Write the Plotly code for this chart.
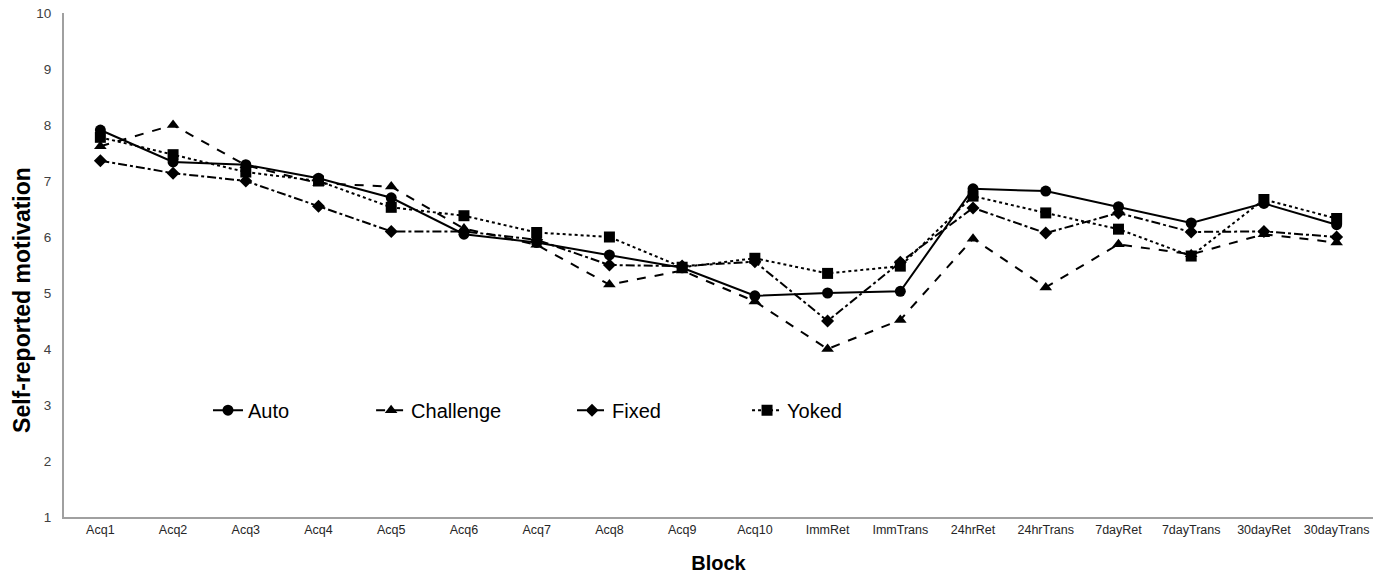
import plotly.graph_objects as go

blocks = ["Acq1", "Acq2", "Acq3", "Acq4", "Acq5", "Acq6", "Acq7", "Acq8", "Acq9", "Acq10",
          "ImmRet", "ImmTrans", "24hrRet", "24hrTrans", "7dayRet", "7dayTrans", "30dayRet", "30dayTrans"]

auto = [7.91, 7.34, 7.29, 7.05, 6.70, 6.05, 5.90, 5.68, 5.45, 4.95, 5.00, 5.03, 6.86, 6.82, 6.54, 6.25, 6.60, 6.22]
challenge = [7.62, 8.00, 7.28, 6.96, 6.90, 6.15, 5.86, 5.15, 5.40, 4.85, 4.00, 4.52, 5.97, 5.10, 5.87, 5.69, 6.05, 5.90]
fixed = [7.36, 7.14, 7.00, 6.55, 6.10, 6.10, 5.95, 5.50, 5.48, 5.56, 4.50, 5.55, 6.52, 6.07, 6.43, 6.09, 6.10, 6.00]
yoked = [7.78, 7.47, 7.16, 7.00, 6.53, 6.38, 6.08, 6.00, 5.46, 5.62, 5.35, 5.48, 6.73, 6.43, 6.14, 5.66, 6.67, 6.33]

series = [
    ("Auto", auto, "solid", "circle", "legend"),
    ("Challenge", challenge, "dash", "triangle-up", "legend2"),
    ("Fixed", fixed, "dashdot", "diamond", "legend3"),
    ("Yoked", yoked, "dot", "square", "legend4"),
]

font = "Arial, Liberation Sans, sans-serif"
fig = go.Figure()
for name, vals, dash, sym, leg in series:
    fig.add_trace(go.Scatter(
        x=blocks, y=vals, name=name, mode="lines+markers", legend=leg,
        line=dict(color="black", width=2, dash=dash),
        marker=dict(symbol=sym, size=11 if sym != "diamond" else 10, color="black"),
    ))

legend_x = [0.110, 0.2346, 0.3881, 0.5218]
leg_common = dict(orientation="h", y=0.212, xanchor="left", yanchor="middle",
                  font=dict(size=20, family=font, color="black"), bgcolor="rgba(0,0,0,0)")

fig.add_annotation(
    text="<b>Self-reported motivation</b>", textangle=-90,
    xref="paper", yref="paper", x=-0.0321, y=0.4306,
    xanchor="center", yanchor="middle", showarrow=False,
    font=dict(size=23, family=font, color="black"),
)

fig.update_layout(
    width=1380, height=585,
    margin=dict(l=64, r=7, t=13, b=68),
    paper_bgcolor="white", plot_bgcolor="white",
    font=dict(family=font, color="#404040", size=13),
    showlegend=True,
    legend=dict(x=legend_x[0], **leg_common),
    legend2=dict(x=legend_x[1], **leg_common),
    legend3=dict(x=legend_x[2], **leg_common),
    legend4=dict(x=legend_x[3], **leg_common),
    xaxis=dict(type="category", range=[-0.5, 17.5], showgrid=False, showline=True,
               linecolor="#a0a0a0", linewidth=2, ticks="", tickfont=dict(size=12.5, color="#262626"),
               title=dict(text="<b>Block</b>", font=dict(size=20, color="black"), standoff=20)),
    yaxis=dict(range=[1, 10], dtick=1, showgrid=False, showline=True, zeroline=False,
               linecolor="#a0a0a0", linewidth=2, ticks="outside", ticklen=8, tickcolor="white",
               tickfont=dict(size=13.5)),
)

fig.write_html("out.html")
